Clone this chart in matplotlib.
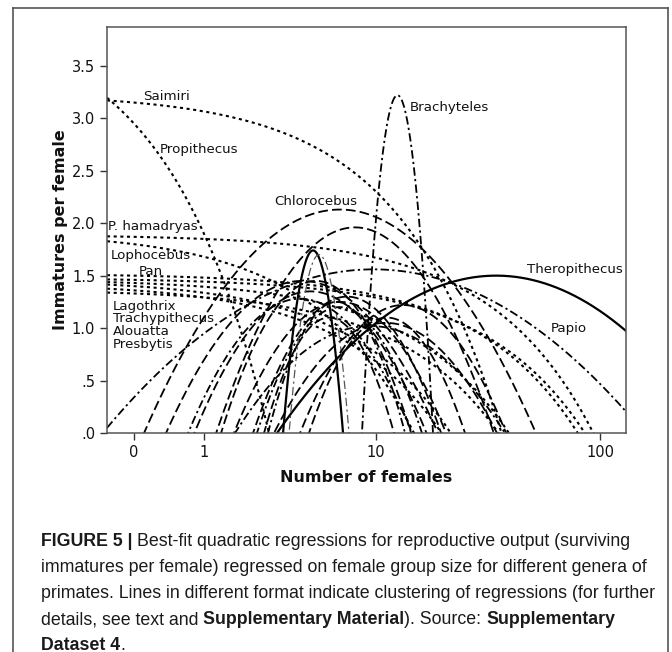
import numpy as np
import matplotlib
matplotlib.use("Agg")
import matplotlib.pyplot as plt
from matplotlib.lines import Line2D

plt.rcParams['lines.scale_dashes'] = False

# ---------------- data ----------------
# Quadratic fits in log10(females+1): y = peak - k * (log10(x+1) - log10(xv+1))**2
arch_xv   = [6.69, 7.92, 4.28, 4.74, 5.07, 6.69, 7.25, 6.65, 5.90, 6.43, 11.07, 35.1, 4.89, 5.25, 13.36, 11.25, 12.59, 9.72, 9.35, 4.18]
arch_peak = [2.13, 1.96, 1.45, 1.35, 1.45, 1.25, 1.30, 1.20, 1.10, 1.25, 1.05, 1.50, 1.74, 1.70, 1.22, 1.10, 3.22, 1.56, 1.02, 1.28]
arch_k    = [3.00, 5.50, 4.24, 5.42, 8.68, 6.01, 7.95, 9.53, 14.07, 14.39, 4.57, 1.69, 104.6, 102.2, 6.22, 9.77, 138.0, 1.15, 3.03, 5.52]
arch_kind = ['dash', 'dash', 'dash', 'dash', 'dash', 'dash', 'dash', 'dashdot', 'dash', 'dashdot',
             'dash', 'solid', 'solid', 'dashdot_thin', 'dash', 'dash', 'dashdot', 'dashdot', 'dashdot', 'dashdot']

# Fits that are near-linear in raw female count: y = a + b * x
lin_a = [3.15, 2.95, 1.87, 1.80, 1.50, 1.46, 1.43, 1.40, 1.36, 1.33]
lin_b = [-0.085, -1.05, -0.020, -0.12, -0.01875, -0.017, -0.0358, -0.0636, -0.068, -0.037]

# labels (x in females, y in immatures per female)
label_text = ['Saimiri', 'Propithecus', 'Brachyteles', 'Chlorocebus', 'P. hamadryas', 'Lophocebus', 'Pan',
              'Lagothrix', 'Trachypithecus', 'Alouatta', 'Presbytis', 'Theropithecus', 'Papio']
label_x = [0.093, 0.294, 14.4, 3.0, -0.227, -0.204, 0.051, -0.188, -0.188, -0.188, -0.188, 48.0, 61.2]
label_y = [3.21, 2.70, 3.10, 2.21, 1.97, 1.69, 1.54, 1.21, 1.095, 0.971, 0.848, 1.56, 1.00]

xticks = [0, 1, 10, 100]
xtick_labels = ['0', '1', '10', '100']
yticks = [0, 0.5, 1.0, 1.5, 2.0, 2.5, 3.0, 3.5]
ytick_labels = ['.0', '.5', '1.0', '1.5', '2.0', '2.5', '3.0', '3.5']

# ---------------- figure ----------------
W, H = 672, 652
fig = plt.figure(figsize=(W / 100, H / 100), dpi=100)

def px_rect(l, t, r, b):
    return [l / W, 1 - b / H, (r - l) / W, (b - t) / H]

ax = fig.add_axes(px_rect(107, 27, 626, 433))

fwd = lambda x: np.log10(np.maximum(np.asarray(x, float) + 1.0, 1e-9))
inv = lambda u: 10.0 ** np.asarray(u, float) - 1.0
ax.set_xscale('function', functions=(fwd, inv))
xmin, xmax = inv(-0.116), inv(2.116)
ax.set_xlim(xmin, xmax)
ax.set_ylim(0, 3.87)

xs = inv(np.linspace(-0.116, 2.116, 1500))
us = fwd(xs)

styles = {
    'dash': dict(lw=1.3, dashes=(7.0, 3.0)),
    'dashdot': dict(lw=1.3, dashes=(6.0, 2.4, 1.6, 2.4)),
    'dashdot_thin': dict(lw=0.9, dashes=(6.0, 2.4, 1.6, 2.4), color='#555555'),
    'solid': dict(lw=1.6),
    'dot': dict(lw=1.5, dashes=(2.2, 2.6)),
}

for xv, pk, k, kind in zip(arch_xv, arch_peak, arch_k, arch_kind):
    y = pk - k * (us - fwd(xv)) ** 2
    st = dict(color='black')
    st.update(styles[kind])
    ax.plot(xs, y, **st)

for a, b in zip(lin_a, lin_b):
    y = a + b * xs
    st = dict(color='black')
    st.update(styles['dot'])
    ax.plot(xs, y, **st)

for t, x, y in zip(label_text, label_x, label_y):
    ax.text(x, y, t, fontsize=9.6, ha='left', va='center', color='#111111')

ax.set_xticks(xticks)
ax.set_xticklabels(xtick_labels)
ax.set_yticks(yticks)
ax.set_yticklabels(ytick_labels)
ax.minorticks_off()
ax.tick_params(direction='out', length=5, width=1, colors='#333333', labelsize=10.5, labelcolor='#111111')
for s in ax.spines.values():
    s.set_color('#555555')
    s.set_linewidth(1.1)

ax.set_xlabel('Number of females', fontsize=11.5, fontweight='bold', labelpad=7, color='#111111')
ax.set_ylabel('Immatures per female', fontsize=11.5, fontweight='bold', labelpad=3, color='#111111')

# outer frame
def fline(x0, y0, x1, y1, **kw):
    fig.add_artist(Line2D([x0 / W, x1 / W], [1 - y0 / H, 1 - y1 / H], transform=fig.transFigure, **kw))

fline(13, 8, 668, 8, color='#555555', lw=1.2)
fline(13, 8, 13, 652, color='#555555', lw=1.2)
fline(668, 8, 668, 652, color='#555555', lw=1.2)

# caption with mixed bold segments
cap_lines = [
    [('FIGURE 5 | ', 'bold'), ('Best-fit quadratic regressions for reproductive output (surviving', 'normal')],
    [('immatures per female) regressed on female group size for different genera of', 'normal')],
    [('primates. Lines in different format indicate clustering of regressions (for further', 'normal')],
    [('details, see text and ', 'normal'), ('Supplementary Material', 'bold'), ('). Source: ', 'normal'),
     ('Supplementary', 'bold')],
    [('Dataset 4', 'bold'), ('.', 'normal')],
]
cap_y = [542, 568, 594, 620, 645]
cap_family = ['Liberation Sans']
fig.canvas.draw()
renderer = fig.canvas.get_renderer()
for segs, yy in zip(cap_lines, cap_y):
    xx = 41.0
    for s, wgt in segs:
        t = fig.text(xx / W, 1 - yy / H, s, fontsize=12.8, fontweight=wgt, family=cap_family,
                     ha='left', va='center', color='#1a1a1a')
        bb = t.get_window_extent(renderer=renderer)
        xx += bb.width

fig.savefig('out.png', dpi=100)
